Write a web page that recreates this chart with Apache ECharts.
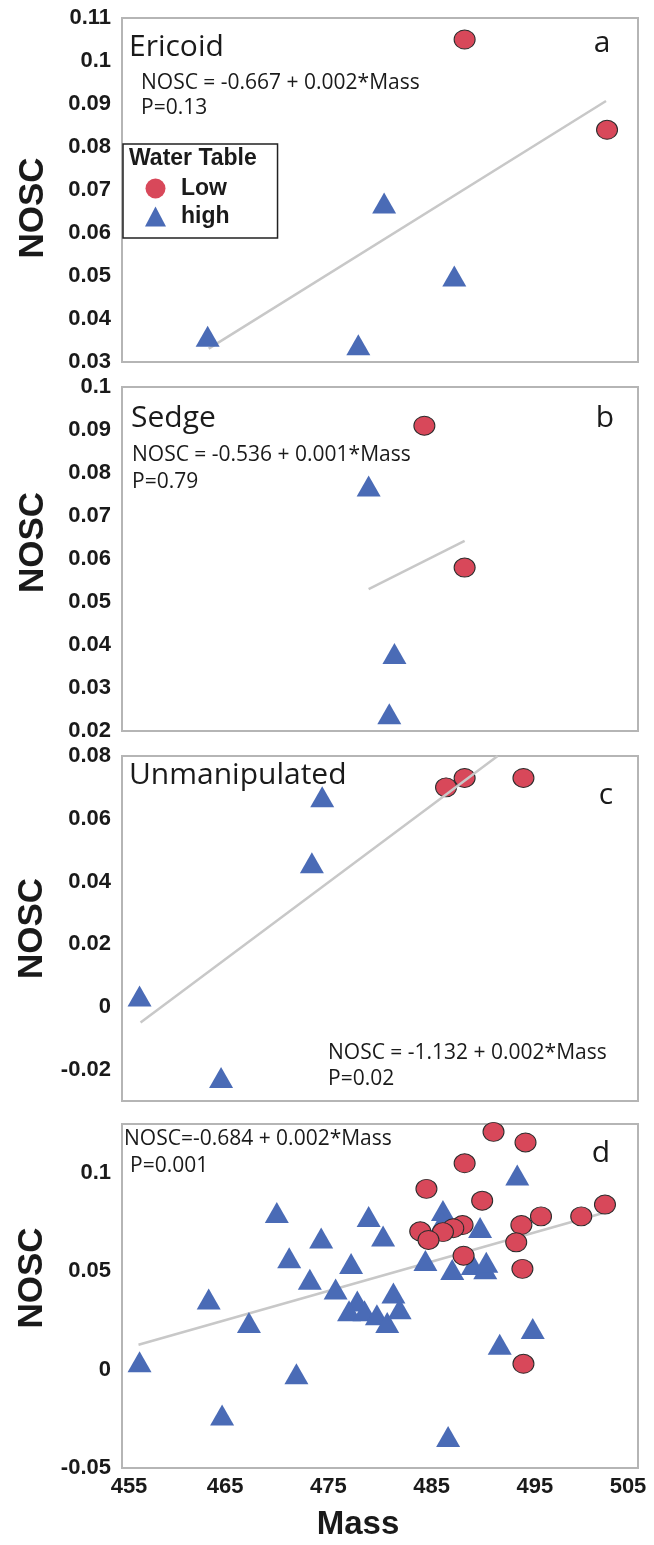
<!DOCTYPE html>
<html><head><meta charset="utf-8">
<script src="https://cdn.jsdelivr.net/npm/echarts@6/dist/echarts.min.js"></script>
<style>html,body{margin:0;padding:0;background:#fff}#c{width:654px;height:1545px}</style>
</head><body><div id="c"></div>
<script>
// ---- tick labels ----
const xTicks = [455, 465, 475, 485, 495, 505];
const yTicksA = [0.03, 0.04, 0.05, 0.06, 0.07, 0.08, 0.09, 0.1, 0.11];
const yTicksB = [0.02, 0.03, 0.04, 0.05, 0.06, 0.07, 0.08, 0.09, 0.1];
const yTicksC = [-0.02, 0, 0.02, 0.04, 0.06, 0.08];
const yTicksD = [-0.05, 0, 0.05, 0.1];

// ---- panel a: Ericoid ----
const lowA  = [[488.2, 0.105], [502.0, 0.084]];
const highA = [[463.3, 0.036], [477.9, 0.034], [480.4, 0.067], [487.2, 0.050]];
const fitA  = [[463.4, 0.0331], [501.9, 0.0907]];

// ---- panel b: Sedge ----
const lowB  = [[484.3, 0.091], [488.2, 0.058]];
const highB = [[478.9, 0.077], [481.4, 0.038], [480.9, 0.024]];
const fitB  = [[478.9, 0.053], [488.2, 0.0642]];

// ---- panel c: Unmanipulated ----
const lowC  = [[486.4, 0.070], [488.2, 0.073], [493.9, 0.073]];
const highC = [[456.7, 0.0035], [464.6, -0.0225], [473.4, 0.046], [474.4, 0.067]];
const fitC  = [[456.8, -0.005], [491.4, 0.080]];

// ---- panel d: all ----
const lowD = [[491.0, 0.121], [494.1, 0.1156], [488.2, 0.105], [484.5, 0.092], [489.9, 0.086],
  [501.8, 0.084], [499.5, 0.078], [495.6, 0.078], [493.7, 0.0736], [488.0, 0.0736],
  [487.1, 0.072], [486.1, 0.070], [483.9, 0.0704], [484.7, 0.066], [493.2, 0.0648],
  [488.1, 0.058], [493.8, 0.0513], [493.9, 0.003]];
const highD = [[456.7, 0.004], [463.4, 0.036], [464.7, -0.023], [467.3, 0.024], [470.0, 0.080],
  [471.2, 0.057], [471.9, -0.002], [473.2, 0.046], [474.3, 0.067], [475.7, 0.041],
  [477.2, 0.054], [477.8, 0.035], [477.0, 0.030], [478.5, 0.030], [478.9, 0.078],
  [479.7, 0.028], [480.3, 0.068], [480.7, 0.024], [481.3, 0.039], [481.9, 0.031],
  [484.4, 0.0555], [486.1, 0.081], [486.0, 0.075], [486.6, -0.034], [487.0, 0.051],
  [489.0, 0.0535], [489.7, 0.0724], [490.2, 0.0513], [490.3, 0.0547], [491.6, 0.013],
  [493.3, 0.099], [494.8, 0.021]];
const fitD = [[456.6, 0.0127], [501.8, 0.080]];

// ---- styles ----
const RED = '#d8485a', BLUE = '#4a6bb6', INK = '#1a1a1a', FRAME = '#b5b5b5', FIT = '#c8c8c8';
const BOLD = 'Liberation Sans';
const REG = '"Open Sans"';

const has = (arr, v) => arr.some(t => Math.abs(t - v) < 1e-9);
const fmt = v => String(Math.round(v * 1000) / 1000);

const grids = [
  {left: 122, top: 18, width: 516, height: 344},
  {left: 122, top: 387, width: 516, height: 344},
  {left: 122, top: 756, width: 516, height: 345},
  {left: 122, top: 1124, width: 516, height: 344}
].map(g => Object.assign(g, {show: true, borderColor: FRAME, borderWidth: 2, backgroundColor: 'transparent'}));

function xAx(gi, last) {
  return {
    type: 'value', gridIndex: gi, min: 455, max: 505, interval: 5,
    axisLine: {show: false}, axisTick: {show: false}, splitLine: {show: false},
    name: last ? 'Mass' : '', nameLocation: 'middle', nameGap: 40,
    nameTextStyle: {fontFamily: BOLD, fontWeight: 'bold', fontSize: 33, color: INK, padding: [0, 44, 0, 0]},
    axisLabel: {
      show: last, margin: 8, fontFamily: BOLD, fontWeight: 'bold', fontSize: 22, color: INK,
      formatter: v => !has(xTicks, v) ? '' : (v === 455 ? '{l|455}' : v === 505 ? '{r|505}' : String(v)),
      rich: {
        l: {fontFamily: BOLD, fontWeight: 'bold', fontSize: 22, color: INK, padding: [0, 0, 0, 14]},
        r: {fontFamily: BOLD, fontWeight: 'bold', fontSize: 22, color: INK, padding: [0, 20, 0, 0]}
      }
    }
  };
}
function yAx(gi, min, max, interval, ticks, pad) {
  return {
    type: 'value', gridIndex: gi, min, max, interval,
    axisLine: {show: false}, axisTick: {show: false}, splitLine: {show: false},
    name: 'NOSC', nameLocation: 'middle', nameGap: 71, nameRotate: 90,
    nameTextStyle: {fontFamily: BOLD, fontWeight: 'bold', fontSize: 35, color: INK, padding: pad},
    axisLabel: {
      margin: 11, fontFamily: BOLD, fontWeight: 'bold', fontSize: 22, color: INK,
      formatter: v => has(ticks, v) ? fmt(v) : ''
    }
  };
}
function lowS(data, gi) {
  return {type: 'scatter', name: 'Low', xAxisIndex: gi, yAxisIndex: gi, data, symbol: 'circle',
    symbolSize: [21, 19], itemStyle: {color: RED, borderColor: '#2b2b2b', borderWidth: 1, opacity: 1}, z: 4};
}
function highS(data, gi) {
  return {type: 'scatter', name: 'high', xAxisIndex: gi, yAxisIndex: gi, data, symbol: 'triangle',
    symbolSize: [24, 21], itemStyle: {color: BLUE, opacity: 1}, z: 3};
}
function fitS(data, gi, z) {
  return {type: 'line', xAxisIndex: gi, yAxisIndex: gi, data, symbol: 'none', silent: true, clip: true,
    lineStyle: {color: FIT, width: 2.5}, z: z || 2};
}

function txt(x, y, text, size) {
  return {type: 'text', x, y, silent: true, z: 10,
    style: {text, fill: INK, font: size + 'px ' + REG, align: 'left', verticalAlign: 'middle'}};
}
function ctxt(x, y, text, size) {
  return {type: 'text', x, y, silent: true, z: 10,
    style: {text, fill: INK, font: size + 'px ' + REG, align: 'center', verticalAlign: 'middle'}};
}

const chart = echarts.init(document.getElementById('c'), null, {renderer: 'canvas'});
chart.setOption({
  backgroundColor: '#fff',
  animation: false,
  grid: grids,
  xAxis: [xAx(0, false), xAx(1, false), xAx(2, false), xAx(3, true)],
  yAxis: [
    yAx(0, 0.03, 0.11, 0.01, yTicksA, [0, 36, 0, 0]),
    yAx(1, 0.02, 0.1, 0.01, yTicksB, [0, 0, 0, 33]),
    yAx(2, -0.03, 0.08, 0.01, yTicksC, [0, 0, 0, 0]),
    yAx(3, -0.05, 0.125, 0.025, yTicksD, [0, 0, 0, 36])
  ],
  legend: {
    data: [{name: 'Low', icon: 'circle'}, {name: 'high', icon: 'triangle'}],
    left: 123, top: 144, orient: 'vertical',
    padding: [33, 48, 10, 22], itemGap: 5, itemWidth: 21, itemHeight: 20,
    borderColor: '#222', borderWidth: 1.5, backgroundColor: '#fff',
    itemStyle: {borderWidth: 0},
    textStyle: {fontFamily: BOLD, fontWeight: 'bold', fontSize: 23, color: INK, padding: [0, 0, 0, 10]}
  },
  graphic: [
    {type: 'text', x: 129, y: 159, silent: true, z: 10,
      style: {text: 'Water Table', fill: INK, font: 'bold 23px ' + BOLD, align: 'left', verticalAlign: 'middle'}},
    txt(129, 47, 'Ericoid', 30),
    ctxt(602, 43, 'a', 30),
    txt(141, 83, 'NOSC = -0.667 + 0.002*Mass', 21),
    txt(141, 108, 'P=0.13', 21),
    txt(131, 418, 'Sedge', 30),
    ctxt(605, 418, 'b', 30),
    txt(132, 455, 'NOSC = -0.536 + 0.001*Mass', 21),
    txt(132, 482, 'P=0.79', 21),
    txt(129, 775, 'Unmanipulated', 30),
    ctxt(606, 795, 'c', 30),
    txt(328, 1053, 'NOSC = -1.132 + 0.002*Mass', 21),
    txt(328, 1079, 'P=0.02', 21),
    txt(124, 1139, 'NOSC=-0.684 + 0.002*Mass', 21),
    txt(130, 1166, 'P=0.001', 21),
    ctxt(601, 1153, 'd', 30)
  ],
  series: [
    fitS(fitA, 0), highS(highA, 0), lowS(lowA, 0),
    fitS(fitB, 1), highS(highB, 1), lowS(lowB, 1),
    highS(highC, 2), lowS(lowC, 2), fitS(fitC, 2, 5),
    fitS(fitD, 3), highS(highD, 3), lowS(lowD, 3)
  ]
});
</script></body></html>
